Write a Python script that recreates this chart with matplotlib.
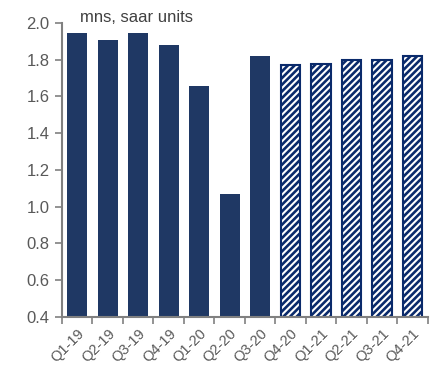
import numpy as np
import matplotlib
matplotlib.use('Agg')
import matplotlib.pyplot as plt

quarters = ['Q1-19', 'Q2-19', 'Q3-19', 'Q4-19', 'Q1-20', 'Q2-20', 'Q3-20',
            'Q4-20', 'Q1-21', 'Q2-21', 'Q3-21', 'Q4-21']
sales = [1.946, 1.907, 1.945, 1.880, 1.655, 1.068, 1.820,
         1.770, 1.775, 1.800, 1.800, 1.822]
n_actual = 7  # first 7 are actuals, rest are forecasts

plt.rcParams['font.family'] = ['Liberation Sans', 'DejaVu Sans']
plt.rcParams['hatch.color'] = '#2b4175'
plt.rcParams['hatch.linewidth'] = 1.9

fig = plt.figure(figsize=(4.32, 3.68), dpi=100)
ax = fig.add_axes([0.1435, 0.1386, 0.8465, 0.7989])

x = np.arange(len(quarters))
ax.bar(x[:n_actual], sales[:n_actual], width=0.65, bottom=0,
       color='#1f3864', edgecolor='none')
ax.bar(x[n_actual:], sales[n_actual:], width=0.65, bottom=0,
       color='white', edgecolor='#0a2a6b', linewidth=1.5, hatch='/////')

ax.set_ylim(0.4, 2.0)
ax.set_yticks(np.arange(0.4, 2.01, 0.2))
ax.set_yticklabels(['%.1f' % v for v in np.arange(0.4, 2.01, 0.2)])
ax.set_xlim(-0.5, len(quarters) - 0.5)

# category labels in centre, tick marks on boundaries
ax.set_xticks(x)
ax.set_xticklabels(quarters, rotation=45, ha='right', rotation_mode='anchor')
ax.set_xticks(np.arange(-0.5, len(quarters), 1.0), minor=True)
ax.tick_params(axis='x', which='major', length=0, pad=7, labelsize=10.5,
               labelcolor='#595959')
ax.tick_params(axis='x', which='minor', length=5, color='#808080', width=1.2)
ax.tick_params(axis='y', length=5, color='#808080', width=1.2,
               labelsize=12, labelcolor='#595959', pad=4)

for side in ['top', 'right']:
    ax.spines[side].set_visible(False)
for side in ['left', 'bottom']:
    ax.spines[side].set_color('#808080')
    ax.spines[side].set_linewidth(1.5)

fig.text(0.185, 0.952, 'mns, saar units', fontsize=12, color='#404040',
         va='center', ha='left')

fig.savefig('out.png', dpi=100)
